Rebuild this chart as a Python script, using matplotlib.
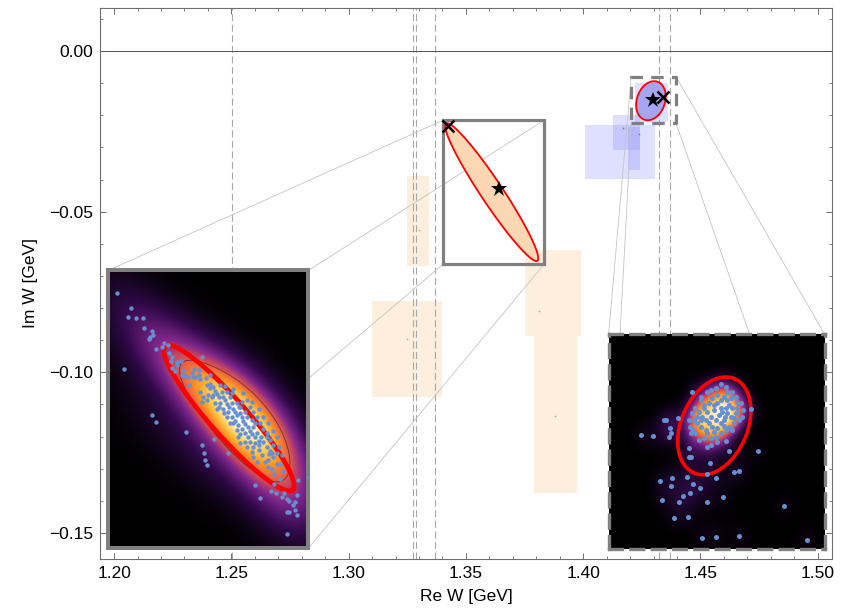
import numpy as np
import matplotlib
matplotlib.use("Agg")
import matplotlib.pyplot as plt
from matplotlib.colors import LinearSegmentedColormap, PowerNorm
from matplotlib.ticker import MultipleLocator, FuncFormatter

plt.rcParams['font.family'] = ['Liberation Sans', 'DejaVu Sans']

# ---------------- data ----------------
XLIM = (1.1940, 1.5061)
YLIM = (-0.1581, 0.0134)
x_ticks = [1.20, 1.25, 1.30, 1.35, 1.40, 1.45, 1.50]
y_ticks = [-0.15, -0.10, -0.05, 0.00]
threshold_x = [1.2503, 1.3276, 1.3289, 1.3370, 1.4324, 1.4371]

orange_rect_x0 = [1.3250, 1.3100, 1.3751, 1.3790]
orange_rect_x1 = [1.3341, 1.3399, 1.3991, 1.3972]
orange_rect_y0 = [-0.0669, -0.1077, -0.0887, -0.1376]
orange_rect_y1 = [-0.0389, -0.0778, -0.0619, -0.0887]
orange_dot_x = [1.3300, 1.3250, 1.3810, 1.3880]
orange_dot_y = [-0.0558, -0.0897, -0.0808, -0.1137]

blue_rect_x0 = [1.4008, 1.4128, 1.4191, 1.4221]
blue_rect_x1 = [1.4306, 1.4242, 1.4242, 1.4361]
blue_rect_y0 = [-0.0398, -0.0308, -0.0370, -0.0221]
blue_rect_y1 = [-0.0230, -0.0199, -0.0236, -0.0100]
blue_dot_x = [1.4170, 1.4238]
blue_dot_y = [-0.0240, -0.0258]

# pole 1 (orange ellipse): centre and semi-axis vectors
pole1_center = [1.3610, -0.0439]
pole1_axis_a = [0.01946, -0.02138]
pole1_axis_b = [-0.00391, -0.00189]
pole1_star = [1.3643, -0.0430]
pole1_cross = [1.3422, -0.0233]
pole1_box = [1.3404, 1.3834, -0.0663, -0.0215]   # x0, x1, y0, y1

# pole 2 (blue ellipse)
pole2_center = [1.4289, -0.01546]
pole2_axis_a = [0.00277, 0.00591]
pole2_axis_b = [0.00567, -0.00142]
pole2_star = [1.4296, -0.01525]
pole2_cross = [1.4339, -0.0144]
pole2_box = [1.4205, 1.4396, -0.0225, -0.0080]

# inset placement (main-axes coordinates) and inset ranges
inset1_pos = [1.19744, 1.28282, -0.15479, -0.06830]
inset1_xlim = (1.3244, 1.3845)
inset1_ylim = (-0.08375, -0.00035)
inset2_pos = [1.41087, 1.50294, -0.15501, -0.08811]
inset2_xlim = (1.41634, 1.44210)
inset2_ylim = (-0.030304, -0.004504)

inset1_ell_center = [1.36065, -0.0446]
inset1_ell_a = [0.01915, -0.0216]
inset1_ell_b = [-0.00412, -0.00365]
inset2_ell_center = [1.42894, -0.01552]
inset2_ell_a = [0.002410, 0.005653]
inset2_ell_b = [0.003636, -0.001549]

# sample points, left inset
s1_x = [1.3270, 1.3313, 1.3303, 1.3328, 1.3350, 1.3351, 1.3375, 1.3370, 1.3366, 1.3378,
        1.3388, 1.3405, 1.3412, 1.3423, 1.3292, 1.3375, 1.3387, 1.3478, 1.3525, 1.3533,
        1.3534, 1.3542, 1.3605, 1.3562, 1.3428, 1.3435, 1.3432, 1.3450, 1.3452, 1.3462,
        1.3476, 1.3503, 1.3518, 1.3508, 1.3520, 1.3526, 1.3488, 1.3525, 1.3543, 1.3550,
        1.3537, 1.3550, 1.3560, 1.3565, 1.3570, 1.3576, 1.3560, 1.3585, 1.3590, 1.3596,
        1.3600, 1.3606, 1.3615, 1.3620, 1.3626, 1.3630, 1.3636, 1.3640, 1.3645, 1.3650,
        1.3656, 1.3660, 1.3665, 1.3670, 1.3676, 1.3680, 1.3686, 1.3690, 1.3696, 1.3702,
        1.3710, 1.3720, 1.3730, 1.3740, 1.3620, 1.3610, 1.3580, 1.3590, 1.3605, 1.3615,
        1.3625, 1.3635, 1.3645, 1.3655, 1.3665, 1.3670, 1.3650, 1.3660, 1.3670, 1.3680,
        1.3690, 1.3700, 1.3710, 1.3720, 1.3730, 1.3620, 1.3630, 1.3640, 1.3600, 1.3565,
        1.3570, 1.3520, 1.3540, 1.3580, 1.3595, 1.3530, 1.3500, 1.3485, 1.3470, 1.3465,
        1.3495, 1.3516, 1.3550, 1.3576, 1.3592, 1.3610, 1.3635, 1.3656, 1.3680, 1.3706,
        1.3725, 1.3735, 1.3715, 1.3696, 1.3676, 1.3660, 1.3640, 1.3676, 1.3656, 1.3641,
        1.3675, 1.3696, 1.3710, 1.3725, 1.3740, 1.3750, 1.3757, 1.3765, 1.3740, 1.3720,
        1.3686, 1.3646, 1.3630, 1.3616, 1.3602, 1.3556, 1.3542, 1.3435, 1.3446, 1.3686,
        1.3700, 1.3732, 1.3742, 1.3748, 1.3767, 1.3780, 1.3786, 1.3805, 1.3810, 1.3813,
        1.3847, 1.3800, 1.3805, 1.3780, 1.3788, 1.3810, 1.3782, 1.3772, 1.3760, 1.3768,
        1.3741, 1.3750, 1.3725, 1.3690, 1.3680, 1.3698, 1.3685, 1.3728, 1.3737, 1.3751,
        1.3760]
s1_y = [-0.0072, -0.0115, -0.0144, -0.0145, -0.0145, -0.0177, -0.0184, -0.0202, -0.0208, -0.0197,
        -0.0239, -0.0234, -0.0222, -0.0227, -0.0300, -0.0436, -0.0458, -0.0489, -0.0527, -0.0550,
        -0.0572, -0.0586, -0.0550, -0.0509, -0.0250, -0.0262, -0.0274, -0.0277, -0.0288, -0.0276,
        -0.0320, -0.0299, -0.0302, -0.0324, -0.0330, -0.0262, -0.0348, -0.0397, -0.0376, -0.0344,
        -0.0327, -0.0357, -0.0352, -0.0364, -0.0374, -0.0382, -0.0377, -0.0367, -0.0384, -0.0392,
        -0.0404, -0.0412, -0.0402, -0.0418, -0.0428, -0.0438, -0.0412, -0.0432, -0.0444, -0.0454,
        -0.0464, -0.0442, -0.0474, -0.0484, -0.0494, -0.0472, -0.0504, -0.0492, -0.0514, -0.0502,
        -0.0518, -0.0534, -0.0544, -0.0562, -0.0358, -0.0382, -0.0402, -0.0418, -0.0428, -0.0442,
        -0.0454, -0.0468, -0.0478, -0.0492, -0.0504, -0.0518, -0.0372, -0.0392, -0.0412, -0.0428,
        -0.0442, -0.0462, -0.0478, -0.0492, -0.0512, -0.0462, -0.0482, -0.0494, -0.0442, -0.0402,
        -0.0418, -0.0367, -0.0347, -0.0348, -0.0350, -0.0382, -0.0322, -0.0324, -0.0302, -0.0317,
        -0.0312, -0.0318, -0.0318, -0.0412, -0.0432, -0.0462, -0.0502, -0.0518, -0.0534, -0.0558,
        -0.0592, -0.0598, -0.0578, -0.0528, -0.0548, -0.0532, -0.0522, -0.0452, -0.0428, -0.0414,
        -0.0397, -0.0418, -0.0442, -0.0462, -0.0484, -0.0502, -0.0532, -0.0558, -0.0528, -0.0504,
        -0.0462, -0.0398, -0.0402, -0.0372, -0.0368, -0.0382, -0.0392, -0.0297, -0.0304, -0.0648,
        -0.0686, -0.0664, -0.0644, -0.0672, -0.0684, -0.0688, -0.0694, -0.0697, -0.0678, -0.0632,
        -0.0622, -0.0708, -0.0722, -0.0729, -0.0729, -0.0737, -0.0794, -0.0670, -0.0629, -0.0606,
        -0.0614, -0.0584, -0.0572, -0.0577, -0.0562, -0.0542, -0.0520, -0.0555, -0.0552, -0.0552,
        -0.0584]

# sample points, right inset
s2_x = [1.42022, 1.42162, 1.42290, 1.42318, 1.42370, 1.42378, 1.42350, 1.42458, 1.42242, 1.42390,
        1.42382, 1.42266, 1.42470, 1.42522, 1.42570, 1.42610, 1.42642, 1.42718, 1.42578, 1.42418,
        1.42802, 1.42750, 1.42910, 1.42994, 1.42910, 1.42842, 1.42810, 1.43130, 1.43190, 1.43070,
        1.43418, 1.43730, 1.44002, 1.43190, 1.42630, 1.42590, 1.42618, 1.42590, 1.42618, 1.42642,
        1.42730, 1.42770, 1.42810, 1.42850, 1.42910, 1.42970, 1.43030, 1.43050, 1.43110, 1.43150,
        1.43170, 1.43210, 1.43242, 1.43230, 1.43190, 1.43130, 1.43070, 1.43030, 1.42970, 1.42910,
        1.42850, 1.42770, 1.42710, 1.42670, 1.42610, 1.42590, 1.42630, 1.42670, 1.42710, 1.42750,
        1.42790, 1.42830, 1.42870, 1.42910, 1.42950, 1.42990, 1.43030, 1.43070, 1.43110, 1.43150,
        1.43130, 1.43090, 1.43050, 1.43010, 1.42970, 1.42930, 1.42890, 1.42850, 1.42810, 1.42770,
        1.42730, 1.42690, 1.42730, 1.42790, 1.42890, 1.42930, 1.42970, 1.43010, 1.43050, 1.43090,
        1.42930, 1.42870, 1.42830, 1.42890, 1.42730, 1.42690, 1.42650, 1.42970, 1.43018, 1.43170,
        1.43110, 1.43010, 1.42810, 1.43330, 1.42850, 1.42810, 1.42930, 1.43038]
s2_y = [-0.0166, -0.01672, -0.0148, -0.0148, -0.01572, -0.01632, -0.0168, -0.01452, -0.02208, -0.0218,
        -0.02272, -0.0244, -0.02464, -0.02392, -0.0216, -0.0236, -0.02248, -0.02292, -0.02648, -0.02652,
        -0.02468, -0.02892, -0.02888, -0.0240, -0.0218, -0.01992, -0.02128, -0.0210, -0.02088, -0.01848,
        -0.01852, -0.02512, -0.02916, -0.02868, -0.0114, -0.01928, -0.0192, -0.0182, -0.0164, -0.0160,
        -0.0124, -0.0130, -0.0114, -0.0112, -0.0110, -0.01052, -0.0108, -0.0114, -0.0114, -0.0120,
        -0.0126, -0.0128, -0.0136, -0.0144, -0.0148, -0.0152, -0.0156, -0.0160, -0.0164, -0.0168,
        -0.0170, -0.0170, -0.0172, -0.0164, -0.0156, -0.0148, -0.0140, -0.0134, -0.0138, -0.0144,
        -0.0148, -0.0152, -0.0156, -0.0148, -0.0142, -0.0138, -0.0134, -0.0130, -0.0134, -0.0140,
        -0.0146, -0.0144, -0.0140, -0.0148, -0.0152, -0.0158, -0.0162, -0.0144, -0.0138, -0.0134,
        -0.0148, -0.0152, -0.0156, -0.0160, -0.0136, -0.0128, -0.0124, -0.0120, -0.0124, -0.0122,
        -0.0118, -0.0122, -0.0128, -0.0130, -0.0120, -0.0144, -0.0148, -0.0134, -0.0144, -0.0134,
        -0.0160, -0.01552, -0.0164, -0.01352, -0.0178, -0.0180, -0.0174, -0.01728]

# ---------------- styling ----------------
FRAME = '#6e6e6e'
PT_BLUE = '#6690d0'
sunset = LinearSegmentedColormap.from_list('sunset', [
    (0.00, (0.0, 0.0, 0.0)),
    (0.20, (0.20, 0.04, 0.30)),
    (0.40, (0.50, 0.15, 0.55)),
    (0.58, (0.90, 0.35, 0.30)),
    (0.72, (1.00, 0.58, 0.12)),
    (0.86, (1.00, 0.82, 0.35)),
    (1.00, (1.00, 1.00, 1.00))])


def ellipse_xy(c, a, b, n=300):
    t = np.linspace(0, 2 * np.pi, n)
    return (c[0] + np.cos(t) * a[0] + np.sin(t) * b[0],
            c[1] + np.cos(t) * a[1] + np.sin(t) * b[1])


def kde(px, py, xlim, ylim, factor, iso, n=240):
    px = np.asarray(px); py = np.asarray(py)
    cov = np.cov(np.vstack([px, py])) * factor ** 2 + np.eye(2) * iso ** 2
    inv = np.linalg.inv(cov)
    gx = np.linspace(xlim[0], xlim[1], n)
    gy = np.linspace(ylim[0], ylim[1], n)
    X, Y = np.meshgrid(gx, gy)
    Z = np.zeros_like(X)
    for xi, yi in zip(px, py):
        dx = X - xi; dy = Y - yi
        Z += np.exp(-0.5 * (inv[0, 0] * dx * dx + 2 * inv[0, 1] * dx * dy + inv[1, 1] * dy * dy))
    return X, Y, Z / Z.max()


fig = plt.figure(figsize=(8.52, 6.12), dpi=100)
ax = fig.add_axes([100 / 852, 1 - 559 / 612, 732 / 852, 551 / 612])
ax.set_xlim(*XLIM)
ax.set_ylim(*YLIM)

# rectangles
for x0, x1, y0, y1 in zip(orange_rect_x0, orange_rect_x1, orange_rect_y0, orange_rect_y1):
    ax.fill([x0, x1, x1, x0], [y0, y0, y1, y1], color='#fdeede', lw=0, zorder=1)
ax.plot(orange_dot_x, orange_dot_y, 'o', color='#f5a050', ms=1.2, mew=0, zorder=1.2)
for x0, x1, y0, y1 in zip(blue_rect_x0, blue_rect_x1, blue_rect_y0, blue_rect_y1):
    ax.fill([x0, x1, x1, x0], [y0, y0, y1, y1], color=(0.55, 0.55, 1.0), alpha=0.28, lw=0, zorder=1)
ax.plot(blue_dot_x, blue_dot_y, 'o', color='#7070e0', ms=1.2, mew=0, zorder=1.2)

# reference lines
for xv in threshold_x:
    ax.axvline(xv, color='#a8a8a8', lw=0.8, dashes=(6.3, 3.2), zorder=2)
ax.axhline(0.0, color='#555555', lw=0.7, zorder=2)

# connector lines
def connect(box, pos):
    bx = [box[0], box[1], box[0], box[1]]
    by = [box[3], box[3], box[2], box[2]]
    ix = [pos[0], pos[1], pos[0], pos[1]]
    iy = [pos[3], pos[3], pos[2], pos[2]]
    for a, b, c, d in zip(bx, by, ix, iy):
        ax.plot([a, c], [b, d], color='#c4c4c4', lw=0.6, zorder=2.5)

connect(pole1_box, inset1_pos)
connect(pole2_box, inset2_pos)

# zoom boxes
b = pole1_box
ax.plot([b[0], b[1], b[1], b[0], b[0]], [b[2], b[2], b[3], b[3], b[2]],
        color='#808080', lw=2.3, zorder=3, solid_joinstyle='miter')
b = pole2_box
ax.plot([b[0], b[1], b[1], b[0], b[0]], [b[2], b[2], b[3], b[3], b[2]],
        color='#808080', lw=2.3, zorder=3, dashes=(3.9, 2.6))

# ellipses
ex, ey = ellipse_xy(pole1_center, pole1_axis_a, pole1_axis_b)
ax.fill(ex, ey, facecolor='#fcd7b4', edgecolor='red', lw=1.3, zorder=3.5)
ex, ey = ellipse_xy(pole2_center, pole2_axis_a, pole2_axis_b)
ax.fill(ex, ey, facecolor='#a6a6f0', edgecolor='red', lw=1.3, zorder=3.5)

for st, cr in [(pole1_star, pole1_cross), (pole2_star, pole2_cross)]:
    ax.plot([st[0]], [st[1]], marker='*', color='black', ms=12, mew=0, ls='none', zorder=4)
    ax.plot([cr[0]], [cr[1]], marker='x', color='black', ms=8, mew=1.8, ls='none', zorder=4)

# axes styling
ax.set_xticks(x_ticks)
ax.set_yticks(y_ticks)
ax.xaxis.set_minor_locator(MultipleLocator(0.01))
ax.yaxis.set_minor_locator(MultipleLocator(0.01))
fmt = FuncFormatter(lambda v, p: ('%.2f' % (0.0 if abs(v) < 1e-9 else v)).replace('-', '\u2212'))
ax.xaxis.set_major_formatter(fmt)
ax.yaxis.set_major_formatter(fmt)
ax.tick_params(which='both', direction='in', top=True, right=True, color=FRAME,
               labelsize=12.5, labelcolor='black')
ax.tick_params(which='major', length=4.2, width=0.7, pad=5)
ax.tick_params(which='minor', length=2.2, width=0.6)
for s in ax.spines.values():
    s.set_color(FRAME)
    s.set_linewidth(0.8)
ax.set_xlabel('Re W [GeV]', fontsize=12.5, labelpad=6)
ax.set_ylabel('Im W [GeV]', fontsize=12.5, labelpad=8)

# ---------------- insets ----------------
def make_inset(pos, xlim, ylim, px, py, factor, iso, gamma, cx, ca, cb, ell_lw, levels, dashed, ms):
    ins = ax.inset_axes([pos[0], pos[2], pos[1] - pos[0], pos[3] - pos[2]], transform=ax.transData)
    ins.set_xlim(*xlim)
    ins.set_ylim(*ylim)
    ins.set_facecolor('black')
    X, Y, Z = kde(px, py, xlim, ylim, factor, iso)
    ins.imshow(Z, extent=(xlim[0], xlim[1], ylim[0], ylim[1]), origin='lower', aspect='auto',
               cmap=sunset, norm=PowerNorm(gamma, vmin=0, vmax=1), interpolation='bilinear', zorder=1)
    ins.contour(X, Y, Z, levels=levels, colors=['#3a2020'], linewidths=0.6, alpha=0.7, zorder=2)
    ex, ey = ellipse_xy(cx, ca, cb)
    ins.plot(ex, ey, color='red', lw=ell_lw, zorder=3)
    ins.scatter(px, py, s=ms, color=PT_BLUE, linewidths=0, zorder=4)
    ins.set_xticks([]); ins.set_yticks([])
    for s in ins.spines.values():
        s.set_color('#808080')
        s.set_linewidth(2.9 if not dashed else 2.4)
        if dashed:
            s.set_linestyle((0, (3.9, 2.5)))
    return ins

make_inset(inset1_pos, inset1_xlim, inset1_ylim, s1_x, s1_y, 0.5, 0.0058, 0.8,
           inset1_ell_center, inset1_ell_a, inset1_ell_b, 3.4, [0.5], False, 10)
make_inset(inset2_pos, inset2_xlim, inset2_ylim, s2_x, s2_y, 0.25, 0.0007, 1.15,
           inset2_ell_center, inset2_ell_a, inset2_ell_b, 2.6, [0.25], True, 13)

fig.savefig('out.png', dpi=100)
